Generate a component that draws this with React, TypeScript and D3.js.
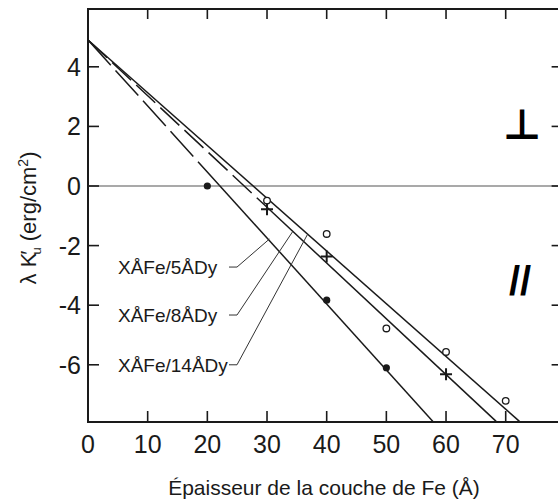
import { useRef, useEffect } from 'react'
import * as d3 from 'd3'

// measured points (thickness of Fe in Å, λK'u in erg/cm²)
const dy5Points: [number, number][] = [[20, 0], [40, -3.83], [50, -6.1]]
const dy8Points: [number, number][] = [[30, -0.78], [40, -2.37], [60, -6.32]]
const dy14Points: [number, number][] = [[30, -0.49], [40, -1.61], [50, -4.78], [60, -5.57], [70, -7.21]]

// fitted straight lines: start, end
const dy5Fit: [number, number][] = [[0, 4.9], [57.8, -7.9]]
const dy8Fit: [number, number][] = [[0, 4.9], [68.4, -7.9]]
const dy14Fit: [number, number][] = [[0, 4.9], [72.3, -7.9]]

const labels = ['XÅFe/5ÅDy', 'XÅFe/8ÅDy', 'XÅFe/14ÅDy']
const labelY = [-2.72, -4.33, -6.0]
const leaderEnds: [number, number][] = [[30.4, -1.78], [34.3, -1.53], [36.8, -1.62]]

const xTicks = [0, 10, 20, 30, 40, 50, 60, 70]
const yTicks = [4, 2, 0, -2, -4, -6]

const width = 558
const height = 504
const font = '"Liberation Sans", Arial, sans-serif'

const App = () => {
  const svgRef = useRef<SVGSVGElement>(null)

  useEffect(() => {
    if (!svgRef.current) return
    const svg = d3.select(svgRef.current)
    svg.selectAll('*').remove()

    const x = d3.scaleLinear().domain([0, 79.2]).range([88, 560.6])
    const y = d3.scaleLinear().domain([-7.92, 5.94]).range([422, 9])
    const [x0, x1] = x.range()
    const [y0, y1] = y.range()

    const ink = '#1a1a1a'

    // frame
    svg.append('rect')
      .attr('x', x0).attr('y', y1)
      .attr('width', x1 - x0).attr('height', y0 - y1)
      .attr('fill', 'none').attr('stroke', ink).attr('stroke-width', 2)

    // zero line
    svg.append('line')
      .attr('x1', x0).attr('x2', x1)
      .attr('y1', y(0)).attr('y2', y(0))
      .attr('stroke', '#555').attr('stroke-width', 1.2)

    // x ticks (bottom and top, pointing inward)
    svg.append('g').selectAll('line')
      .data(xTicks.filter(d => d > 0))
      .join('line')
      .attr('x1', d => x(d)).attr('x2', d => x(d))
      .attr('y1', y0).attr('y2', y0 - 11)
      .attr('stroke', ink).attr('stroke-width', 1.6)
    svg.append('g').selectAll('line')
      .data(xTicks.filter(d => d > 0))
      .join('line')
      .attr('x1', d => x(d)).attr('x2', d => x(d))
      .attr('y1', y1).attr('y2', y1 + 10)
      .attr('stroke', ink).attr('stroke-width', 1.6)

    // y ticks (left and right)
    svg.append('g').selectAll('line')
      .data(yTicks)
      .join('line')
      .attr('x1', x0).attr('x2', x0 + 11)
      .attr('y1', d => y(d)).attr('y2', d => y(d))
      .attr('stroke', ink).attr('stroke-width', 1.6)
    svg.append('g').selectAll('line')
      .data(yTicks)
      .join('line')
      .attr('x1', x1).attr('x2', x1 - 9)
      .attr('y1', d => y(d)).attr('y2', d => y(d))
      .attr('stroke', ink).attr('stroke-width', 1.6)

    // tick labels
    svg.append('g').selectAll('text')
      .data(xTicks)
      .join('text')
      .attr('x', d => x(d))
      .attr('y', 453)
      .attr('text-anchor', 'middle')
      .style('font-family', font)
      .style('font-size', '25px')
      .attr('fill', ink)
      .text(d => String(d))
    svg.append('g').selectAll('text')
      .data(yTicks)
      .join('text')
      .attr('x', 81)
      .attr('y', d => y(d) + 9)
      .attr('text-anchor', 'end')
      .style('font-family', font)
      .style('font-size', '25px')
      .attr('fill', ink)
      .text(d => (d < 0 ? '-' + Math.abs(d) : String(d)))

    // fitted lines, with the dashed part near the origin
    const line = d3.line<[number, number]>().x(d => x(d[0])).y(d => y(d[1]))
    const fits = [
      { pts: dy5Fit, dash: '34,7', split: 22 },
      { pts: dy8Fit, dash: '26,7', split: 30 },
      { pts: dy14Fit, dash: null, split: 0 },
    ]
    fits.forEach(f => {
      const [a, b] = f.pts
      const slope = (b[1] - a[1]) / (b[0] - a[0])
      const mid: [number, number] = [f.split, a[1] + slope * f.split]
      if (f.dash) {
        svg.append('path')
          .attr('d', line([a, mid]))
          .attr('fill', 'none').attr('stroke', ink).attr('stroke-width', 1.5)
          .attr('stroke-dasharray', f.dash)
        svg.append('path')
          .attr('d', line([mid, b]))
          .attr('fill', 'none').attr('stroke', ink).attr('stroke-width', 1.5)
      } else {
        svg.append('path')
          .attr('d', line([a, b]))
          .attr('fill', 'none').attr('stroke', ink).attr('stroke-width', 1.5)
      }
    })

    // markers
    svg.append('g').selectAll('circle')
      .data(dy5Points)
      .join('circle')
      .attr('cx', d => x(d[0])).attr('cy', d => y(d[1]))
      .attr('r', 3.6).attr('fill', ink)
    svg.append('g').selectAll('circle')
      .data(dy14Points)
      .join('circle')
      .attr('cx', d => x(d[0])).attr('cy', d => y(d[1]))
      .attr('r', 3.3).attr('fill', 'white')
      .attr('stroke', ink).attr('stroke-width', 1.3)
    svg.append('g').selectAll('path')
      .data(dy8Points)
      .join('path')
      .attr('d', d => {
        const cx = x(d[0]), cy = y(d[1])
        return `M${cx - 6},${cy}H${cx + 6}M${cx},${cy - 6}V${cy + 6}`
      })
      .attr('stroke', ink).attr('stroke-width', 2)

    // series labels with leader lines
    labels.forEach((lab, i) => {
      const ty = y(labelY[i])
      svg.append('text')
        .attr('x', 118)
        .attr('y', ty + 7)
        .style('font-family', font)
        .style('font-size', '19px')
        .attr('fill', ink)
        .text(lab)
      const [ex, ey] = leaderEnds[i]
      svg.append('path')
        .attr('d', `M229,${ty}H237L${x(ex)},${y(ey)}`)
        .attr('fill', 'none').attr('stroke', '#333').attr('stroke-width', 1)
    })

    // orientation marks
    svg.append('text')
      .attr('x', 522).attr('y', 139)
      .attr('text-anchor', 'middle')
      .style('font-family', '"DejaVu Sans", sans-serif')
      .style('font-size', '42px')
      .style('font-weight', 'bold')
      .attr('fill', '#000')
      .text('⊥')
    svg.append('text')
      .attr('x', 520).attr('y', 295)
      .attr('text-anchor', 'middle')
      .style('font-family', font)
      .style('font-size', '40px')
      .style('font-weight', 'bold')
      .attr('fill', '#000')
      .text('//')

    // axis titles
    svg.append('text')
      .attr('x', 324).attr('y', 495)
      .attr('text-anchor', 'middle')
      .style('font-family', font)
      .style('font-size', '21px')
      .attr('fill', ink)
      .text('Épaisseur de la couche de Fe (Å)')

    const yt = svg.append('text')
      .attr('transform', `translate(36,218) rotate(-90)`)
      .attr('text-anchor', 'middle')
      .style('font-family', font)
      .style('font-size', '22px')
      .attr('fill', ink)
    yt.append('tspan').text('λ K')
    yt.append('tspan').attr('dx', -2).text('′')
    yt.append('tspan').attr('dx', -4).attr('dy', 5).style('font-size', '13px').text('u')
    yt.append('tspan').attr('dy', -5).text(' (erg/cm')
    yt.append('tspan').attr('dy', -8).style('font-size', '14px').text('2')
    yt.append('tspan').attr('dy', 8).text(')')
  }, [])

  return (
    <svg
      ref={svgRef}
      width={width}
      height={height}
      style={{ position: 'absolute', left: 0, top: 0, background: 'white' }}
    />
  )
}

export default App
